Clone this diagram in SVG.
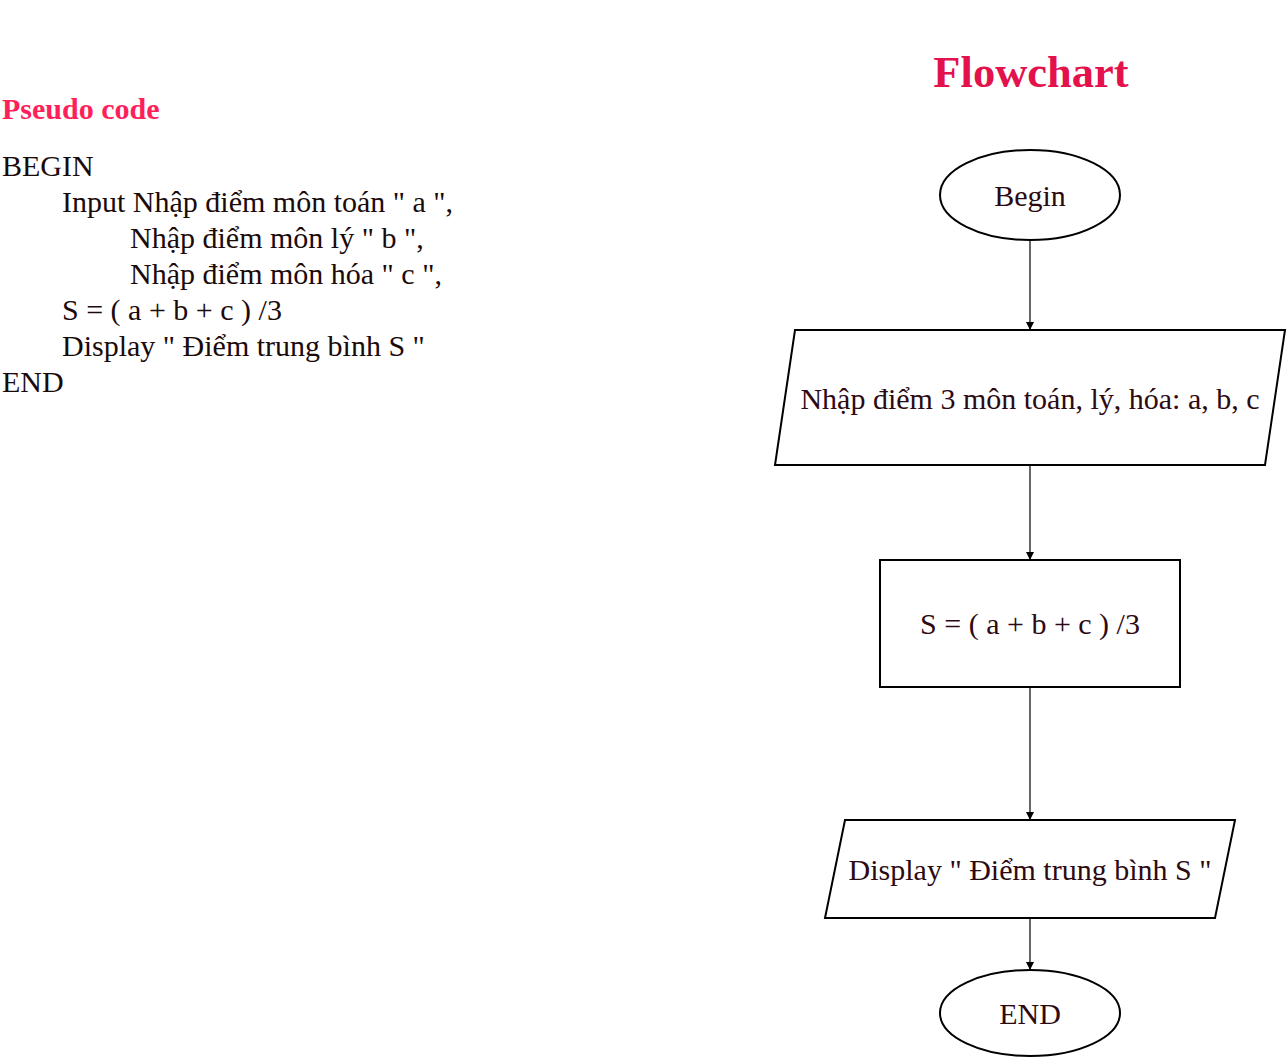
<svg xmlns="http://www.w3.org/2000/svg" width="1287" height="1058" viewBox="0 0 1287 1058">
<style>
text { font-family: "Liberation Serif", "Times New Roman", serif; }
.code { font-size: 30px; fill: #1a0a0a; }
.lbl { font-size: 30px; fill: #2d0a12; text-anchor: middle; }
.shape { fill: #ffffff; stroke: #000000; stroke-width: 2; }
.conn { stroke: #000000; stroke-width: 1.2; fill: none; marker-end: url(#arr); }
</style>
<defs>
<marker id="arr" viewBox="0 0 10 10" refX="10" refY="5" markerWidth="8" markerHeight="8" markerUnits="userSpaceOnUse" orient="auto">
<path d="M0,0 L10,5 L0,10 z" fill="#000000"/>
</marker>
</defs>
<rect width="1287" height="1058" fill="#ffffff"/>

<g id="pseudo">
<text x="2" y="119" style="font-size:30px;font-weight:bold;fill:#ff1f5a">Pseudo code</text>
<text class="code" x="2" y="176">BEGIN</text>
<text class="code" x="62" y="212">Input Nhập điểm môn toán " a ",</text>
<text class="code" x="130" y="248">Nhập điểm môn lý " b ",</text>
<text class="code" x="130" y="284">Nhập điểm môn hóa " c ",</text>
<text class="code" x="62" y="320">S = ( a + b + c ) /3</text>
<text class="code" x="62" y="356">Display " Điểm trung bình S "</text>
<text class="code" x="2" y="392">END</text>
</g>

<g id="title">
<text x="1031" y="87" text-anchor="middle" style="font-size:44.5px;font-weight:bold;fill:#e3114c">Flowchart</text>
</g>

<g id="connectors">
<line class="conn" x1="1030" y1="240" x2="1030" y2="330"/>
<line class="conn" x1="1030" y1="465" x2="1030" y2="560"/>
<line class="conn" x1="1030" y1="688" x2="1030" y2="820"/>
<line class="conn" x1="1030" y1="919" x2="1030" y2="970"/>
</g>

<g id="begin">
<ellipse class="shape" cx="1030" cy="195" rx="90" ry="45"/>
<text class="lbl" x="1030" y="206">Begin</text>
</g>

<g id="input">
<polygon class="shape" points="795,330 1285,330 1265,465 775,465"/>
<text class="lbl" x="1030" y="409">Nhập điểm 3 môn toán, lý, hóa: a, b, c</text>
</g>

<g id="process">
<rect class="shape" x="880" y="560" width="300" height="127"/>
<text class="lbl" x="1030" y="634">S = ( a + b + c ) /3</text>
</g>

<g id="output">
<polygon class="shape" points="845,820 1235,820 1215,918 825,918"/>
<text class="lbl" x="1030" y="880">Display " Điểm trung bình S "</text>
</g>

<g id="end">
<ellipse class="shape" cx="1030" cy="1013" rx="90" ry="43"/>
<text class="lbl" x="1030" y="1024">END</text>
</g>
</svg>
